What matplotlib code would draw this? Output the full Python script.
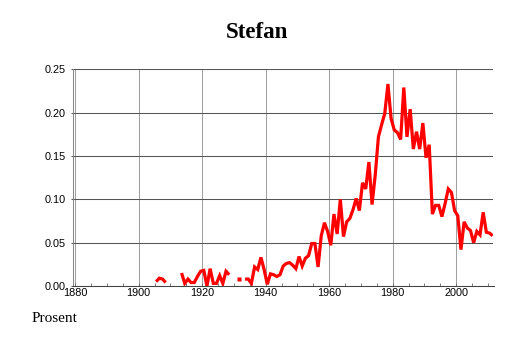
import numpy as np
import matplotlib
matplotlib.use("Agg")
import matplotlib.pyplot as plt
from matplotlib.ticker import MultipleLocator

# share of newborns named Stefan, per year (nan = no data)
years = np.arange(1905, 2012)
values = [
    0.005, 0.009, 0.008, 0.004,                     # 1905-1908
    np.nan, np.nan, np.nan, np.nan,                 # 1909-1912
    0.015, 0.003, 0.008, 0.004, 0.004, 0.011,       # 1913-1918
    0.017, 0.018, 0.000, 0.020, 0.003, 0.003,       # 1919-1924
    0.012, 0.003, 0.017, 0.013,                     # 1925-1928
    np.nan, np.nan, 0.008, np.nan,                  # 1929-1932
    0.008, 0.008, 0.003, 0.022, 0.019, 0.033,       # 1933-1938
    0.019, 0.002, 0.014, 0.013, 0.011, 0.013,       # 1939-1944
    0.023, 0.026, 0.027, 0.024, 0.020, 0.034,       # 1945-1950
    0.023, 0.032, 0.035, 0.049, 0.049, 0.022,       # 1951-1956
    0.058, 0.073, 0.063, 0.047, 0.083, 0.060,       # 1957-1962
    0.100, 0.057, 0.074, 0.078, 0.088, 0.101,       # 1963-1968
    0.087, 0.119, 0.112, 0.143, 0.094, 0.128,       # 1969-1974
    0.172, 0.186, 0.199, 0.233, 0.193, 0.180,       # 1975-1980
    0.177, 0.169, 0.229, 0.172, 0.204, 0.158,       # 1981-1986
    0.178, 0.158, 0.188, 0.148, 0.163, 0.083,       # 1987-1992
    0.093, 0.093, 0.080, 0.095, 0.112, 0.108,       # 1993-1998
    0.087, 0.081, 0.042, 0.074, 0.067, 0.064,       # 1999-2004
    0.050, 0.063, 0.059, 0.085, 0.062, 0.061,       # 2005-2010
    0.058,                                          # 2011
]
values = np.array(values, dtype=float)

title = "Stefan"
ylabel = "Prosent"

fig = plt.figure(figsize=(5.14, 3.43), dpi=100)
ax = fig.add_axes([73.3 / 514, 57 / 343, (493.5 - 73.3) / 514, (286 - 69.3) / 343])

x = years + 0.5  # values sit mid-year
ax.plot(x, values, color="#ff0000", lw=2.3, solid_capstyle="butt",
        solid_joinstyle="miter", zorder=3)

# single years with no neighbours show up as short dashes
ok = ~np.isnan(values)
prev_ok = np.r_[False, ok[:-1]]
next_ok = np.r_[ok[1:], False]
lone = ok & ~prev_ok & ~next_ok
ax.plot(x[lone], values[lone], ls="none", marker="s", ms=2.4,
        color="#ff0000", mec="none", zorder=3)

ax.set_xlim(1879.4, 2011.75)
ax.set_ylim(0, 0.25)
ax.xaxis.set_major_locator(MultipleLocator(20))
ax.xaxis.set_minor_locator(MultipleLocator(5))
ax.yaxis.set_major_locator(MultipleLocator(0.05))
ax.yaxis.set_major_formatter(matplotlib.ticker.FormatStrFormatter("%.2f"))

ax.grid(axis="y", color="#555555", lw=0.75)
ax.grid(axis="x", color="#a0a0a0", lw=0.75)
ax.set_axisbelow(True)

for side in ["top", "right"]:
    ax.spines[side].set_visible(False)
ax.spines["left"].set_color("#888888")
ax.spines["left"].set_linewidth(0.75)
ax.spines["bottom"].set_color("#444444")
ax.spines["bottom"].set_linewidth(0.75)

ax.tick_params(axis="x", which="both", direction="in", length=2.5,
               width=0.6, color="#666666", pad=1.5)
ax.tick_params(axis="y", direction="out", length=1.5, width=0.75,
               color="#555555", pad=4)
for lab in ax.get_xticklabels() + ax.get_yticklabels():
    lab.set_family("Liberation Sans")
    lab.set_fontsize(7.8)

fig.text(0.5, 1 - 33 / 343, title, ha="center", va="center",
         family="Liberation Serif", weight="bold", fontsize=16.5)
fig.text(31.5 / 514, 1 - 318 / 343, ylabel, ha="left", va="center",
         family="Liberation Serif", fontsize=11)

fig.savefig("out.png", dpi=100)
